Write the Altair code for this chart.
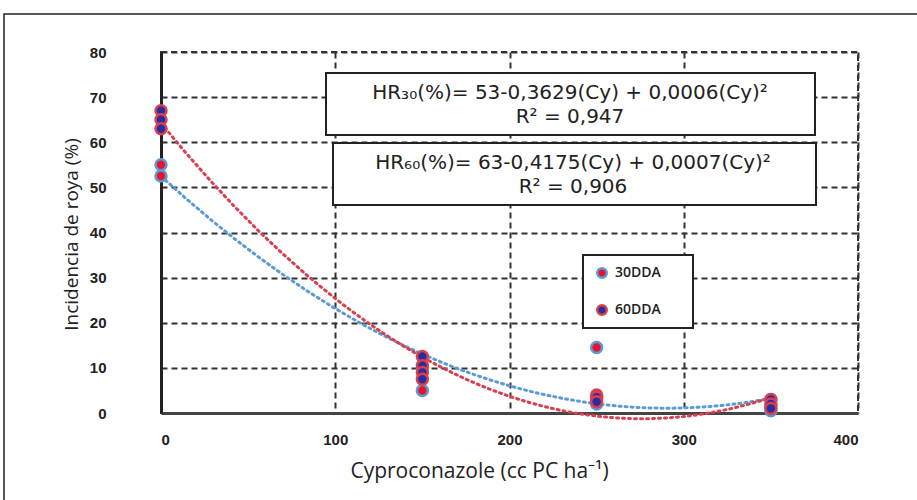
import altair as alt
import pandas as pd

# --- data ---
dose_30 = [0, 0, 150, 150, 250, 250, 250, 350, 350, 350]
inc_30 = [55, 52.5, 5, 10, 14.5, 3, 2, 3, 1.5, 0.5]
dose_60 = [0, 0, 0, 150, 150, 150, 150, 250, 250, 250, 350, 350, 350]
inc_60 = [67, 65, 63, 12.5, 10.5, 9, 7.5, 4, 3.5, 2.5, 3, 2, 1]

series_names = ["30DDA", "60DDA"]
fill_colors = ["#e8142e", "#2b2d9c"]
edge_colors = ["#5b9bd5", "#d9404f"]
y_ticks = [0, 10, 20, 30, 40, 50, 60, 70, 80]
x_ticks = [0, 100, 200, 300, 400]
eq1_lines = ["HR₃₀(%)= 53-0,3629(Cy) + 0,0006(Cy)²", "R² = 0,947"]
eq2_lines = ["HR₆₀(%)= 63-0,4175(Cy) + 0,0007(Cy)²", "R² = 0,906"]
x_title = "Cyproconazole (cc PC ha⁻¹)"
y_title = "Incidencia de roya (%)"

df = pd.DataFrame({
    "dose": dose_30 + dose_60,
    "inc": inc_30 + inc_60,
    "serie": ["30DDA"] * len(dose_30) + ["60DDA"] * len(dose_60),
})

W, H = 697, 361

xs = alt.X("dose:Q", scale=alt.Scale(domain=[0, 400], nice=False),
           axis=alt.Axis(values=x_ticks, title=x_title, grid=True, tickSize=0,
                         labelPadding=19, labelFontSize=15, labelFontWeight="bold",
                         labelFont="Liberation Sans", labelColor="#222",
                         titleFont="Open Sans", titleFontSize=21, titleFontWeight="normal",
                         titleColor="#222", titleX=318, titleY=58, titleAlign="center",
                         titleBaseline="middle",
                         domainColor="#444", domainWidth=3))
ys = alt.Y("inc:Q", scale=alt.Scale(domain=[0, 80], nice=False),
           axis=alt.Axis(values=y_ticks, title=y_title, grid=True, tickSize=0,
                         labelPadding=55, labelFontSize=15, labelFontWeight="bold",
                         labelFont="Liberation Sans", labelColor="#222",
                         titleFont="Open Sans", titleFontSize=19, titleFontWeight="normal",
                         titleColor="#222", titleX=-90, titleY=182, titleAngle=270,
                         titleAlign="center", titleBaseline="middle",
                         domainColor="#222", domainWidth=3))

base = alt.Chart(df)

curves = base.transform_regression(
    "dose", "inc", method="poly", order=2, groupby=["serie"], extent=[0, 350]
).mark_line(strokeDash=[2, 4], strokeWidth=3, strokeCap="round").encode(
    x=xs, y=ys,
    stroke=alt.Stroke("serie:N", scale=alt.Scale(domain=series_names, range=edge_colors), legend=None),
)

points = base.mark_point(filled=True, shape="circle", size=120, strokeWidth=2.5, opacity=1).encode(
    x=xs, y=ys,
    fill=alt.Fill("serie:N", scale=alt.Scale(domain=series_names, range=fill_colors), legend=None),
    stroke=alt.Stroke("serie:N", scale=alt.Scale(domain=series_names, range=edge_colors), legend=None),
)

one = alt.Chart(pd.DataFrame({"a": [0]}))

frame = one.mark_rect(fill="white", fillOpacity=0, stroke="#222", strokeWidth=1.5).encode(
    x=alt.value(-157), y=alt.value(-38), x2=alt.value(800), y2=alt.value(500))

def box(x1, y1, x2, y2):
    return one.mark_rect(fill="white", stroke="#222", strokeWidth=2).encode(
        x=alt.value(x1), y=alt.value(y1), x2=alt.value(x2), y2=alt.value(y2))

def txt(s, x, y, size, weight="normal", align="center", font="DejaVu Sans"):
    return one.mark_text(text=s, fontSize=size, fontWeight=weight, align=align,
                         baseline="middle", font=font, color="#222").encode(
        x=alt.value(x), y=alt.value(y))

box1 = box(165, 21, 654, 83)
box2 = box(172, 91, 655, 153)
t1a = txt(eq1_lines[0], 409, 41, 20)
t1b = txt(eq1_lines[1], 409, 65, 20)
t2a = txt(eq2_lines[0], 412, 111, 20)
t2b = txt(eq2_lines[1], 412, 135, 20)

leg_box = box(422, 203, 532, 276)
leg_m1 = one.mark_point(filled=True, shape="circle", size=90, strokeWidth=2.5,
                        fill=fill_colors[0], stroke=edge_colors[0], opacity=1).encode(
    x=alt.value(441), y=alt.value(221))
leg_m2 = one.mark_point(filled=True, shape="circle", size=90, strokeWidth=2.5,
                        fill=fill_colors[1], stroke=edge_colors[1], opacity=1).encode(
    x=alt.value(441), y=alt.value(258))
leg_t1 = txt(series_names[0], 454, 221, 14, 600, "left", "Open Sans")
leg_t2 = txt(series_names[1], 454, 258, 14, 600, "left", "Open Sans")

chart = alt.layer(
    frame, curves, points, box1, box2, t1a, t1b, t2a, t2b,
    leg_box, leg_m1, leg_m2, leg_t1, leg_t2
).properties(
    width=W, height=H,
    background="white",
    autosize=alt.AutoSizeParams(type="none"),
    padding={"left": 161, "top": 52, "right": 59, "bottom": 87},
).configure_view(
    stroke="#333", strokeDash=[6, 4], strokeWidth=2
).configure_axis(
    gridColor="#333", gridDash=[6, 4], gridWidth=2, gridOpacity=1
)

chart.save("out.html", embed_options={"renderer": "svg", "actions": False})
